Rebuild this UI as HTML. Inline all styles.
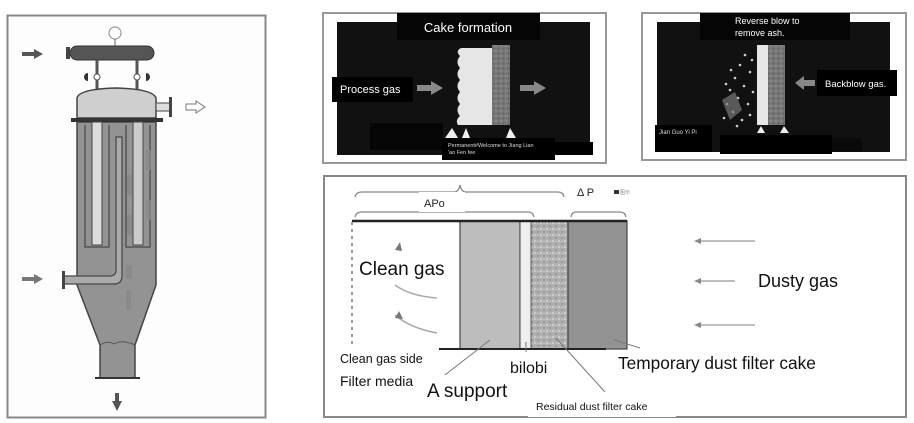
<!DOCTYPE html>
<html><head><meta charset="utf-8"><style>
html,body{margin:0;padding:0;background:#fff;}
svg{display:block;font-family:"Liberation Sans","DejaVu Sans",sans-serif;}
</style></head><body>
<svg width="914" height="423" viewBox="0 0 914 423" xmlns="http://www.w3.org/2000/svg">
<defs>
<pattern id="sp" width="6" height="6" patternUnits="userSpaceOnUse">
<rect width="6" height="6" fill="#b0b0b0"/><circle cx="1" cy="1" r="0.9" fill="#e0e0e0"/><circle cx="4" cy="4" r="0.9" fill="#888"/><circle cx="4" cy="1.5" r="0.6" fill="#d8d8d8"/>
</pattern>
<pattern id="sp2" width="5" height="5" patternUnits="userSpaceOnUse">
<rect width="5" height="5" fill="#777"/><circle cx="1" cy="1" r="0.8" fill="#999"/><circle cx="3.5" cy="3.5" r="0.8" fill="#5a5a5a"/>
</pattern>
</defs>
<!-- LEFT PANEL -->
<rect x="7.5" y="15.5" width="258" height="402" fill="#fdfdfd" stroke="#888" stroke-width="2"/>
<circle cx="115" cy="33" r="6" fill="#fff" stroke="#999" stroke-width="1.2"/>
<line x1="115" y1="39" x2="115" y2="46" stroke="#666"/>
<rect x="70" y="46" width="84" height="14" rx="7" fill="#555" stroke="#333"/>
<rect x="66" y="47" width="4" height="12" fill="#444"/>
<line x1="97" y1="60" x2="97" y2="118" stroke="#555" stroke-width="3"/>
<line x1="137" y1="60" x2="137" y2="118" stroke="#555" stroke-width="3"/>
<circle cx="97" cy="77" r="3" fill="#fff" stroke="#555"/><circle cx="137" cy="77" r="3" fill="#fff" stroke="#555"/>
<path d="M88 73 a4 4 0 0 0 0 8z" fill="#333"/><path d="M146 73 a4 4 0 0 1 0 8z" fill="#333"/>
<path d="M77 118 L77 98 Q79 89 116 88 Q153 89 156 98 L156 118 Z" fill="#cfcfcf" stroke="#444" stroke-width="1.5"/>
<rect x="156" y="103" width="14" height="8" fill="#ddd" stroke="#444"/>
<rect x="169" y="97" width="3" height="20" fill="#444"/>
<path d="M77 122 L156 122 L156 285 L135 345 L135 378 L100 378 L100 345 L77 285 Z" fill="#939393" stroke="#444" stroke-width="1.5"/>
<line x1="95" y1="378" x2="140" y2="378" stroke="#333" stroke-width="2"/>
<path d="M100 345 Q108 340 114 344 Q122 339 135 345" fill="none" stroke="#555"/>
<rect x="71" y="118" width="92" height="4" fill="#333"/>
<path d="M85 125 L85 247 L109 247 L109 125" fill="none" stroke="#555" stroke-width="1.5"/>
<rect x="92" y="122" width="10" height="123" fill="#ddd" stroke="#444"/>
<path d="M126 125 L126 247 L150 247 L150 125" fill="none" stroke="#555" stroke-width="1.5"/>
<rect x="133" y="122" width="10" height="123" fill="#ccc" stroke="#444"/>
<path d="M64 276 L110 276 Q116 276 116 270 L116 137 L122 137 L122 276 Q122 284 114 284 L64 284 Z" fill="#aaa" stroke="#444" stroke-width="1.2"/>
<rect x="62" y="271" width="3" height="18" fill="#444"/>
<g fill="#888" opacity="0.8"><rect x="127" y="175" width="5" height="20"/><rect x="127" y="215" width="5" height="20"/><rect x="146" y="150" width="5" height="20"/><rect x="146" y="200" width="5" height="20"/><rect x="126" y="265" width="6" height="14"/><rect x="126" y="290" width="5" height="20"/></g>
<path d="M22 52 L34 52 L34 49 L43 54 L34 59 L34 56 L22 56Z" fill="#555"/>
<path d="M186 104 L196 104 L196 101 L205 107 L196 113 L196 110 L186 110Z" fill="#fff" stroke="#777"/>
<path d="M22 277 L34 277 L34 274 L43 279 L34 284 L34 281 L22 281Z" fill="#777"/>
<path d="M115 393 L115 401 L112 401 L117 411 L122 401 L119 401 L119 393Z" fill="#555"/>

<!-- TOP MIDDLE PANEL -->
<rect x="323" y="13" width="283" height="150" fill="#fff" stroke="#999" stroke-width="2"/>
<rect x="337" y="22" width="253" height="133" fill="#111"/>
<rect x="397" y="13" width="143" height="27" fill="#050505"/>
<text x="468" y="32" font-size="13" fill="#fff" text-anchor="middle">Cake formation</text>
<rect x="332" y="77" width="81" height="25" fill="#000"/>
<text x="340" y="93" font-size="11" fill="#fff">Process gas</text>
<path d="M417 85 L431 85 L431 81 L443 88 L431 95 L431 91 L417 91Z" fill="#888"/>
<path d="M520 85 L534 85 L534 81 L546 88 L534 95 L534 91 L520 91Z" fill="#888"/>
<path d="M461 48 L492 48 L492 125 L458 125 Q455 120 460 116 Q455 110 460 104 Q455 98 460 92 Q455 86 460 80 Q455 74 460 68 Q455 62 460 56 Q455 51 461 48Z" fill="#e6e6e6"/>
<rect x="492" y="45" width="18" height="80" fill="url(#sp2)"/>
<rect x="370" y="123" width="73" height="27" fill="#050505"/>
<path d="M445 138 L452 128 L458 138Z" fill="#eee"/><path d="M462 138 L466 128 L470 138Z" fill="#eee"/><path d="M506 138 L510 128 L516 138Z" fill="#eee"/>
<rect x="540" y="142" width="53" height="13" fill="#000"/>
<rect x="442" y="138" width="113" height="22" fill="#000"/>
<text x="448" y="147" font-size="5.5" fill="#ddd">Permanent#Welcome to Jiang Lian</text>
<text x="448" y="154" font-size="5.5" fill="#ddd">'ao Fen fee</text>

<!-- TOP RIGHT PANEL -->
<rect x="642" y="13" width="264" height="147" fill="#fff" stroke="#999" stroke-width="2"/>
<rect x="657" y="22" width="233" height="130" fill="#111"/>
<rect x="700" y="13" width="150" height="27" fill="#050505"/>
<text x="735" y="24" font-size="9" fill="#fff">Reverse blow to</text>
<text x="735" y="36" font-size="9" fill="#fff">remove ash.</text>
<g fill="#cfcfcf">
<circle cx="745" cy="55" r="1.3"/><circle cx="740" cy="65" r="1.3"/><circle cx="750" cy="72" r="1.3"/><circle cx="735" cy="78" r="1.3"/><circle cx="744" cy="86" r="1.3"/><circle cx="730" cy="90" r="1.3"/><circle cx="738" cy="98" r="1.3"/><circle cx="727" cy="104" r="1.3"/><circle cx="748" cy="104" r="1.3"/><circle cx="733" cy="112" r="1.3"/><circle cx="724" cy="118" r="1.3"/><circle cx="742" cy="120" r="1.3"/><circle cx="752" cy="60" r="1.3"/><circle cx="731" cy="70" r="1.3"/><circle cx="753" cy="92" r="1.3"/><circle cx="737" cy="126" r="1.3"/><circle cx="750" cy="115" r="1.3"/><circle cx="726" cy="84" r="1.3"/></g>
<path d="M722 100 L735 92 L742 110 L730 120Z" fill="#777" opacity="0.7"/>
<rect x="757" y="45" width="11" height="80" fill="#e6e6e6"/>
<rect x="768" y="45" width="17" height="80" fill="url(#sp2)"/>
<path d="M815 80 L804 80 L804 76 L795 83 L804 90 L804 86 L815 86Z" fill="#888"/>
<rect x="817" y="70" width="80" height="26" fill="#000"/>
<text x="825" y="87" font-size="9.5" fill="#fff">Backblow gas.</text>
<path d="M757 133 L761 126 L765 133Z" fill="#eee"/><path d="M780 133 L784 126 L789 133Z" fill="#eee"/>
<rect x="655" y="125" width="57" height="27" fill="#000"/>
<text x="659" y="134" font-size="6" fill="#ddd">Jian Guo Yi Pi</text>
<rect x="720" y="135" width="112" height="19" fill="#000"/>
<rect x="832" y="138" width="30" height="13" fill="#0a0a0a"/>

<!-- BOTTOM PANEL -->
<rect x="324" y="176" width="582" height="241" fill="#fff" stroke="#888" stroke-width="2"/>
<path d="M355 197 Q356 192 362 192 L455 192 Q459 191 460 185 Q461 191 465 192 L558 192 Q563 192 564 197" fill="none" stroke="#888" stroke-width="1.3"/>
<path d="M355 217 Q356 212 362 212 L528 212 Q533 212 534 217" fill="none" stroke="#888" stroke-width="1.3"/>
<path d="M571 217 Q572 212 576 212 L620 212 Q625 212 626 217" fill="none" stroke="#888" stroke-width="1.3"/>
<rect x="419" y="192" width="46" height="20" fill="#fff"/>
<text x="424" y="207" font-size="11" fill="#222">APo</text>
<text x="577" y="196" font-size="11" fill="#222">Δ P</text>
<rect x="614" y="190" width="5" height="4" fill="#333"/><text x="620" y="194" font-size="5" fill="#888">图示</text>
<rect x="460" y="221" width="60" height="128" fill="#bdbdbd" stroke="#444" stroke-width="1.2"/>
<rect x="520" y="221" width="11" height="128" fill="#eee" stroke="#444"/>
<rect x="531" y="221" width="37" height="128" fill="url(#sp)" stroke="#555"/>
<rect x="568" y="221" width="59" height="128" fill="#939393" stroke="#444" stroke-width="1.2"/>
<line x1="352" y1="221" x2="627" y2="221" stroke="#222" stroke-width="2.5"/>
<line x1="439" y1="349" x2="606" y2="349" stroke="#222" stroke-width="2"/>
<line x1="352" y1="222" x2="352" y2="345" stroke="#999" stroke-width="2" stroke-dasharray="3 4"/>
<path d="M395 250 L400 242 L402 251Z" fill="#777"/>
<path d="M395 285 Q410 296 437 298" fill="none" stroke="#aaa" stroke-width="1.5"/>
<path d="M395 315 Q410 328 437 333" fill="none" stroke="#aaa" stroke-width="1.5"/>
<path d="M395 318 L399 311 L403 319Z" fill="#777"/>
<rect x="355" y="253" width="90" height="30" fill="#fff"/>
<text x="359" y="275" font-size="19" fill="#111">Clean gas</text>
<g stroke="#aaa" stroke-width="1.5"><line x1="697" y1="241" x2="755" y2="241"/><line x1="697" y1="281" x2="735" y2="281"/><line x1="697" y1="325" x2="755" y2="325"/></g>
<g fill="#888"><path d="M694 241 L701 238 L701 244Z"/><path d="M694 281 L701 278 L701 284Z"/><path d="M694 325 L701 322 L701 328Z"/></g>
<text x="758" y="287" font-size="18" fill="#111">Dusty gas</text>
<g stroke="#777" stroke-width="1"><line x1="490" y1="340" x2="441" y2="378"/><line x1="526" y1="342" x2="526" y2="352"/><line x1="556" y1="338" x2="605" y2="392"/><line x1="614" y1="340" x2="640" y2="348"/></g>
<rect x="336" y="348" width="100" height="50" fill="#fff"/>
<text x="340" y="363" font-size="12.5" fill="#111">Clean gas side</text>
<text x="340" y="386" font-size="14" fill="#111">Filter media</text>
<rect x="424" y="375" width="96" height="30" fill="#fff"/>
<text x="427" y="397" font-size="19" fill="#111">A support</text>
<text x="510" y="373" font-size="16" fill="#111">bilobi</text>
<rect x="615" y="350" width="215" height="26" fill="#fff"/>
<text x="618" y="369" font-size="17.3" fill="#111">Temporary dust filter cake</text>
<rect x="528" y="392" width="148" height="25" fill="#fff"/>
<text x="536" y="410" font-size="10.5" fill="#111">Residual dust filter cake</text>
</svg>
</body></html>
